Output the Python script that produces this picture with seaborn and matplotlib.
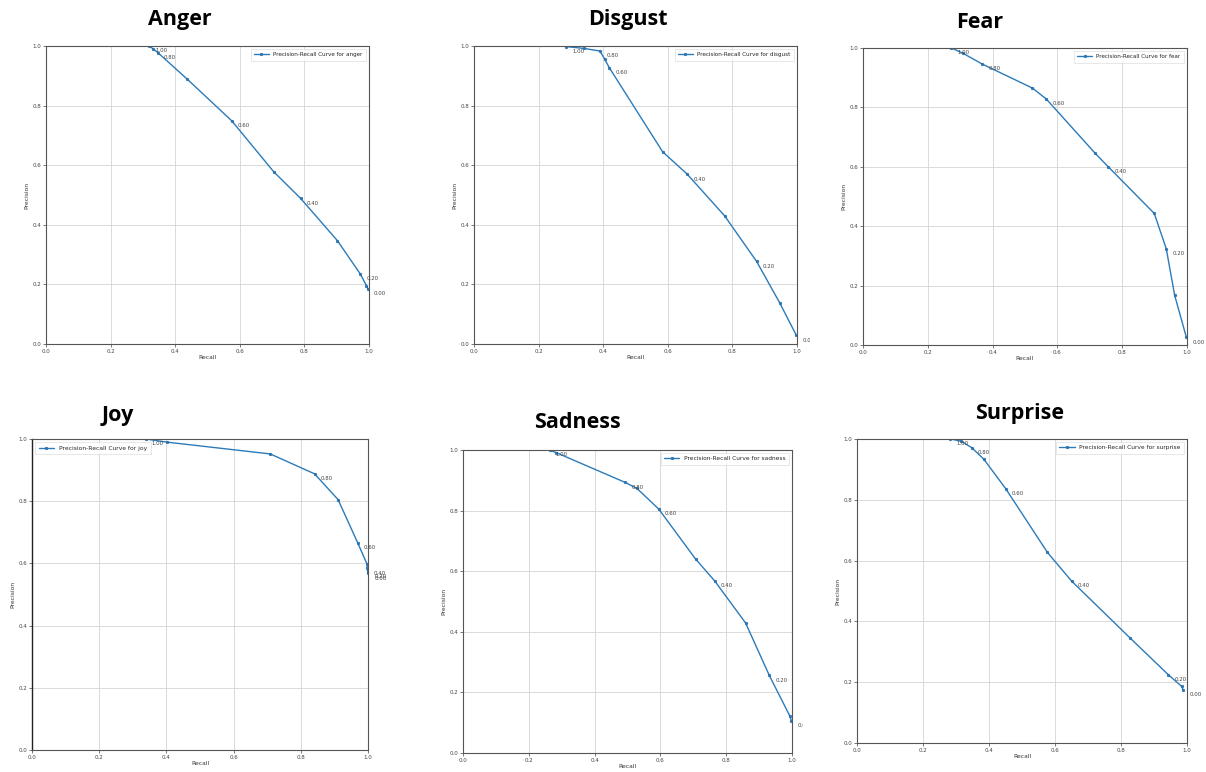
import numpy as np
import pandas as pd
import seaborn as sns
import matplotlib.pyplot as plt
from matplotlib.transforms import Bbox, TransformedBbox

# Precision-recall points per emotion, with threshold labels
anger_recall = [0.320, 0.332, 0.346, 0.437, 0.575, 0.705, 0.788, 0.902, 0.973, 0.992, 0.996]
anger_precision = [1.000, 0.990, 0.978, 0.889, 0.749, 0.578, 0.489, 0.347, 0.235, 0.196, 0.186]
anger_labels = ["1.00", "", "0.80", "", "0.60", "", "0.40", "", "0.20", "", "0.00"]

disgust_recall = [0.285, 0.340, 0.390, 0.405, 0.419, 0.584, 0.660, 0.776, 0.875, 0.946, 0.998]
disgust_precision = [0.998, 0.992, 0.983, 0.955, 0.927, 0.645, 0.570, 0.430, 0.277, 0.139, 0.029]
disgust_labels = ["1.00", "", "0.80", "", "0.60", "", "0.40", "", "0.20", "", "0.00"]

fear_recall = [0.273, 0.309, 0.368, 0.523, 0.566, 0.717, 0.757, 0.899, 0.936, 0.962, 0.998]
fear_precision = [1.000, 0.982, 0.946, 0.865, 0.828, 0.645, 0.600, 0.443, 0.324, 0.167, 0.026]
fear_labels = ["1.00", "", "0.80", "", "0.60", "", "0.40", "", "0.20", "", "0.00"]

joy_recall = [0.338, 0.401, 0.709, 0.841, 0.911, 0.969, 0.997, 0.998, 0.999, 1.000, 1.000]
joy_precision = [1.000, 0.990, 0.952, 0.888, 0.805, 0.667, 0.598, 0.584, 0.576, 0.572, 0.568]
joy_labels = ["1.00", "", "", "0.80", "", "0.60", "", "0.40", "", "0.20", "0.00"]

sadness_recall = [0.263, 0.284, 0.493, 0.529, 0.595, 0.707, 0.765, 0.859, 0.931, 0.993, 0.998]
sadness_precision = [1.000, 0.991, 0.893, 0.873, 0.805, 0.640, 0.568, 0.429, 0.256, 0.123, 0.107]
sadness_labels = ["1.00", "", "0.80", "", "0.60", "", "0.40", "", "0.20", "", "0.00"]

surprise_recall = [0.283, 0.315, 0.347, 0.384, 0.451, 0.577, 0.650, 0.826, 0.943, 0.984, 0.988]
surprise_precision = [1.000, 0.993, 0.972, 0.934, 0.836, 0.627, 0.533, 0.347, 0.225, 0.186, 0.175]
surprise_labels = ["1.00", "", "0.80", "", "0.60", "", "0.40", "", "0.20", "", "0.00"]

emotions = ["anger", "disgust", "fear", "joy", "sadness", "surprise"]
titles = ["Anger", "Disgust", "Fear", "Joy", "Sadness", "Surprise"]
recalls = [anger_recall, disgust_recall, fear_recall, joy_recall, sadness_recall, surprise_recall]
precisions = [anger_precision, disgust_precision, fear_precision,
              joy_precision, sadness_precision, surprise_precision]
labels = [anger_labels, disgust_labels, fear_labels, joy_labels, sadness_labels, surprise_labels]

W, H = 1206, 772

# axes boxes in pixels (left, right, top, bottom), title centre, legend location, label crop edge
boxes = [(46, 369, 46, 344), (474, 797, 46, 344), (863, 1187, 48, 345),
         (32, 368, 439, 750), (463, 792, 450, 753), (857, 1187, 439, 743)]
title_pos = [(180, 20), (628, 20), (980, 22), (118, 415), (577, 423), (1020, 413)]
legend_loc = ["upper right", "upper right", "upper right", "upper left", "upper right", "upper right"]
legend_size = [4.1, 4.1, 4.1, 4.3, 4.2, 4.2]
crop_right = [None, 810, None, None, 803, None]

sns.set_style("whitegrid", {"axes.edgecolor": "#555555", "grid.color": "#d4d4d4"})
plt.rcParams['font.family'] = ['DejaVu Sans']

fig = plt.figure(figsize=(W / 100, H / 100), dpi=100)
fig.patch.set_facecolor("white")

for i, emo in enumerate(emotions):
    l, r, t, b = boxes[i]
    ax = fig.add_axes([l / W, 1 - b / H, (r - l) / W, (b - t) / H])
    df = pd.DataFrame({"Recall": recalls[i], "Precision": precisions[i]})
    sns.lineplot(data=df, x="Recall", y="Precision", ax=ax, sort=False,
                 color="#2b7bba", linewidth=1.0, marker=".", markersize=4,
                 markeredgewidth=0.3, markeredgecolor="#1f5f99",
                 label=f"Precision-Recall Curve for {emo}")

    for x, y, txt in zip(recalls[i], precisions[i], labels[i]):
        if not txt:
            continue
        ann = ax.annotate(txt, (x, y), xytext=(4.5, -3.5), textcoords="offset points",
                          fontsize=3.9, color="#444444", va="center", ha="left")
        if crop_right[i] is not None:
            clip = TransformedBbox(Bbox.from_extents(0, 0, crop_right[i] / W, 1), fig.transFigure)
            ann.set_clip_box(clip)
            ann.set_clip_on(True)

    ax.set_xlim(0, 1)
    ax.set_ylim(0, 1)
    ax.set_xticks(np.arange(0, 1.01, 0.2))
    ax.set_yticks(np.arange(0, 1.01, 0.2))
    ax.tick_params(labelsize=4.0, length=2, width=0.5, pad=1.5, colors="#444444")
    ax.xaxis.set_ticks_position("bottom")
    ax.yaxis.set_ticks_position("left")
    ax.set_xlabel("Recall", fontsize=4.3, labelpad=1, color="#333333")
    ax.set_ylabel("Precision", fontsize=4.3, labelpad=2, color="#333333")
    for s in ax.spines.values():
        s.set_linewidth(0.8)
    if emo == "joy":
        ax.spines["left"].set_color("#222222")
        ax.spines["left"].set_linewidth(1.0)
    ax.grid(True, linewidth=0.6)
    leg = ax.legend(loc=legend_loc[i], fontsize=legend_size[i], frameon=True, handlelength=2.6,
                    borderpad=0.6, fancybox=False)
    leg.get_frame().set_linewidth(0.4)
    leg.get_frame().set_edgecolor("#cccccc")

    tx, ty = title_pos[i]
    fig.text(tx / W, 1 - ty / H, titles[i], fontsize=15.5, fontweight="bold",
             family=["Open Sans", "DejaVu Sans"], ha="center", va="center", color="black")

fig.savefig("out.png", dpi=100, facecolor="white")
